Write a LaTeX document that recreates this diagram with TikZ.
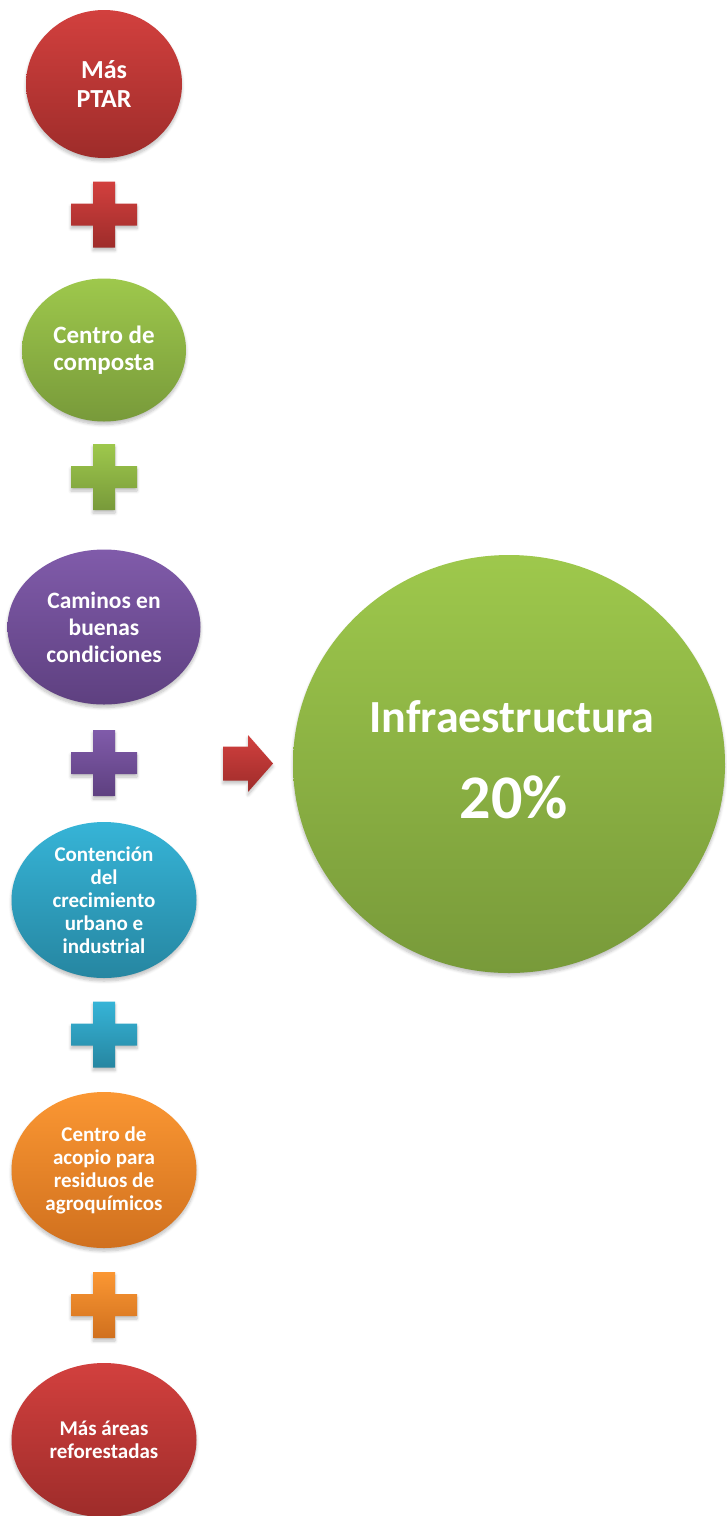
\documentclass[tikz,border=0pt]{standalone}
\usepackage{fontspec}
\setmainfont{Carlito}
\usetikzlibrary{shapes.geometric,shadows.blur}
\definecolor{redT}{RGB}{210,64,62}
\definecolor{redB}{RGB}{158,44,42}
\definecolor{grnT}{RGB}{158,200,76}
\definecolor{grnB}{RGB}{120,154,58}
\definecolor{purT}{RGB}{128,91,170}
\definecolor{purB}{RGB}{94,64,128}
\definecolor{bluT}{RGB}{54,180,215}
\definecolor{bluB}{RGB}{38,134,161}
\definecolor{oraT}{RGB}{251,151,51}
\definecolor{oraB}{RGB}{208,112,30}
\tikzset{
  softshadow/.style={blur shadow={shadow blur steps=6, shadow xshift=0pt, shadow yshift=-3pt, shadow opacity=25, shadow blur radius=3pt}},
  bubble/.style={ellipse, inner sep=0pt, text=white, align=center, softshadow,
     font=\bfseries\fontsize{21}{23}\selectfont},
  shade red/.style={top color=redT, bottom color=redB},
  shade grn/.style={top color=grnT, bottom color=grnB},
  shade pur/.style={top color=purT, bottom color=purB},
  shade blu/.style={top color=bluT, bottom color=bluB},
  shade ora/.style={top color=oraT, bottom color=oraB},
}
\newcommand{\plusat}[2]{%
  \shade[softshadow, #2] ([shift={(-11,-33)}]#1) -- ++(22,0) -- ++(0,22) -- ++(22,0) -- ++(0,22) -- ++(-22,0) -- ++(0,22) -- ++(-22,0) -- ++(0,-22) -- ++(-22,0) -- ++(0,-22) -- ++(22,0) -- cycle;}
\begin{document}
\begin{tikzpicture}[x=1pt,y=-1pt]
\useasboundingbox (0,0) rectangle (726,1516);

\node[bubble, shade red, minimum width=156pt, minimum height=148pt,
      font=\bfseries\fontsize{26}{29}\selectfont] (b1) at (104,84) {Más\\PTAR};
\node[bubble, shade grn, minimum width=164pt, minimum height=143pt,
      font=\bfseries\fontsize{25}{27}\selectfont] (b2) at (104,350) {Centro de\\composta};
\node[bubble, shade pur, minimum width=193pt, minimum height=155pt,
      font=\bfseries\fontsize{23.5}{27}\selectfont] (b3) at (104,627) {Caminos en\\buenas\\condiciones};
\node[bubble, shade blu, minimum width=185pt, minimum height=156pt] (b4) at (104,900)
      {Contención\\del\\crecimiento\\urbano e\\industrial};
\node[bubble, shade ora, minimum width=185pt, minimum height=156pt] (b5) at (104,1170)
      {Centro de\\acopio para\\residuos de\\agroquímicos};
\node[bubble, shade red, minimum width=185pt, minimum height=154pt] (b6) at (104,1440)
      {Más áreas\\reforestadas};

\coordinate (p1) at (104,214.5);
\coordinate (p2) at (104,477);
\coordinate (p3) at (104,763);
\coordinate (p4) at (104,1034.5);
\coordinate (p5) at (104,1305);
\plusat{p1}{shade red}
\plusat{p2}{shade grn}
\plusat{p3}{shade pur}
\plusat{p4}{shade blu}
\plusat{p5}{shade ora}

\coordinate (ar) at (223,763.5);
\shade[shade red, softshadow] ([shift={(0,-17)}]ar) -- ++(25,0) -- ++(0,-11.5) -- ++(25,28.5) -- ++(-25,28.5) -- ++(0,-11.5) -- ++(-25,0) -- cycle;

\node[ellipse, inner sep=0pt, shade grn, softshadow, minimum width=432pt, minimum height=418pt] (big) at (509,764) {};
\node[text=white, font=\bfseries\fontsize{46}{50}\selectfont, anchor=base] (t1) at (512,732) {Infraestructura};
\node[text=white, font=\bfseries\fontsize{62}{66}\selectfont, anchor=base] (t2) at (514,818) {20\%};
\end{tikzpicture}
\end{document}
